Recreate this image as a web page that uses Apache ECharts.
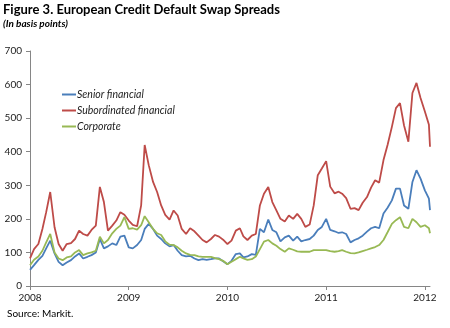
<!DOCTYPE html>
<html>
<head>
<meta charset="utf-8">
<script src="https://cdn.jsdelivr.net/npm/echarts@6/dist/echarts.min.js"></script>
<style>
  html, body { margin: 0; padding: 0; background: #fff; }
  #chart { width: 450px; height: 328px; }
</style>
</head>
<body>
<div id="chart"></div>
<script>
// Semi-monthly observation dates (1st and 16th), plus the last quote of the series
const dates = [];
for (let y = 2008; y <= 2011; y++) {
  for (let m = 1; m <= 12; m++) {
    const mm = String(m).padStart(2, '0');
    dates.push(y + '-' + mm + '-01', y + '-' + mm + '-16');
  }
}
dates.push('2012-01-01', '2012-01-16', '2012-01-20');

const yearTicks = [2008, 2009, 2010, 2011, 2012];

// CDS spreads in basis points
const seniorFinancial = [
  48, 62, 78, 90, 112, 135, 97, 72, 62, 70, 77, 88, 97, 82, 87, 92, 100, 140, 112, 118, 127, 122, 147, 150, 115,
  112, 122, 137, 170, 185, 170, 150, 140, 127, 118, 122, 105, 92, 88, 90, 82, 77, 80, 78, 80, 82, 82, 74, 65,
  75, 95, 97, 85, 88, 95, 93, 170, 160, 198, 167, 160, 133, 145, 150, 135, 147, 133, 137, 140, 150, 167, 176, 200,
  167, 163, 158, 160, 155, 130, 137, 142, 150, 162, 172, 176, 172, 216, 233, 255, 290, 290, 240, 230, 310, 345, 320, 285, 260,
  226
];
const subordinatedFinancial = [
  82, 110, 125, 170, 220, 280, 175, 125, 105, 125, 128, 140, 165, 155, 150, 167, 180, 295, 250, 165, 180, 195, 220, 212, 195,
  182, 178, 240, 420, 360, 310, 280, 240, 212, 198, 225, 210, 170, 155, 172, 163, 150, 137, 130, 140, 152, 147, 138, 125,
  135, 165, 172, 148, 137, 150, 155, 240, 275, 295, 250, 225, 200, 192, 210, 200, 215, 200, 176, 183, 240, 330, 350, 372,
  296, 276, 281, 275, 262, 230, 232, 226, 248, 265, 293, 315, 308, 375, 420, 474, 530, 545, 478, 430, 575, 605, 560, 520, 480,
  415
];
const corporate = [
  62, 78, 88, 105, 130, 155, 100, 82, 77, 85, 88, 100, 107, 92, 97, 100, 105, 147, 127, 137, 157, 170, 180, 205, 170,
  172, 168, 181, 208, 190, 170, 157, 152, 133, 123, 122, 115, 105, 97, 93, 92, 88, 87, 87, 87, 83, 80, 75, 65,
  72, 80, 87, 82, 78, 80, 88, 110, 132, 137, 127, 120, 110, 102, 112, 108, 103, 102, 102, 102, 107, 107, 107, 107,
  104, 102, 104, 107, 102, 98, 97, 100, 104, 108, 112, 116, 122, 137, 160, 185, 196, 205, 176, 172, 200, 190, 176, 181, 172,
  157
];

// Date string -> fractional year, so the x axis is a plain value axis in years
function toYear(s) {
  const [y, m, d] = s.split('-').map(Number);
  const start = Date.UTC(y, 0, 1), end = Date.UTC(y + 1, 0, 1);
  return y + (Date.UTC(y, m - 1, d) - start) / (end - start);
}
const xs = dates.map(toYear);
const pair = vals => vals.map((v, i) => [xs[i], v]);

const axisColor = '#868686';
const labelFont = { fontFamily: 'Lato', fontSize: 10, color: '#222' };

const chart = echarts.init(document.getElementById('chart'), null, { renderer: 'canvas' });
chart.setOption({
  animation: false,
  backgroundColor: '#fff',
  title: [
    {
      text: 'Figure 3. European Credit Default Swap Spreads',
      subtext: '(In basis points)',
      left: 3, top: 3, padding: 0, itemGap: 3,
      textStyle: { fontFamily: 'Lato', fontWeight: 'bold', fontSize: 13, color: '#000' },
      subtextStyle: { fontFamily: 'Lato', fontWeight: 'bold', fontStyle: 'italic', fontSize: 10, color: '#000' }
    },
    {
      text: 'Source: Markit.',
      left: 7, top: 309, padding: 0,
      textStyle: { fontFamily: 'Lato', fontWeight: 'normal', fontSize: 10, color: '#000' }
    }
  ],
  legend: {
    orient: 'vertical', left: 57, top: 84, itemGap: 5,
    itemWidth: 14, itemHeight: 2,
    icon: 'rect',
    textStyle: { fontFamily: 'Lato', fontStyle: 'italic', fontSize: 10.5, color: '#222', padding: [0, 0, 0, -4] },
    data: ['Senior financial', 'Subordinated financial', 'Corporate']
  },
  grid: { left: 30, right: 20, top: 51, bottom: 42, containLabel: false },
  xAxis: {
    type: 'value', min: 2008, max: toYear('2012-01-20'),
    splitLine: { show: false },
    axisLine: { lineStyle: { color: axisColor } },
    axisTick: { customValues: yearTicks, length: 4, lineStyle: { color: axisColor } },
    axisLabel: { customValues: yearTicks, formatter: v => String(Math.round(v)), margin: 7, ...labelFont }
  },
  yAxis: {
    type: 'value', min: 0, max: 700, interval: 100,
    splitLine: { show: false },
    axisLine: { show: true, lineStyle: { color: axisColor } },
    axisTick: { show: true, length: 4, lineStyle: { color: axisColor } },
    axisLabel: { margin: 8, ...labelFont }
  },
  series: [
    { name: 'Senior financial', type: 'line', data: pair(seniorFinancial), showSymbol: false, symbol: 'none',
      lineStyle: { color: '#4a7ebb', width: 1.8 }, itemStyle: { color: '#4a7ebb' } },
    { name: 'Subordinated financial', type: 'line', data: pair(subordinatedFinancial), showSymbol: false, symbol: 'none',
      lineStyle: { color: '#be4b48', width: 1.8 }, itemStyle: { color: '#be4b48' } },
    { name: 'Corporate', type: 'line', data: pair(corporate), showSymbol: false, symbol: 'none',
      lineStyle: { color: '#98b954', width: 1.8 }, itemStyle: { color: '#98b954' } }
  ]
});
</script>
</body>
</html>
